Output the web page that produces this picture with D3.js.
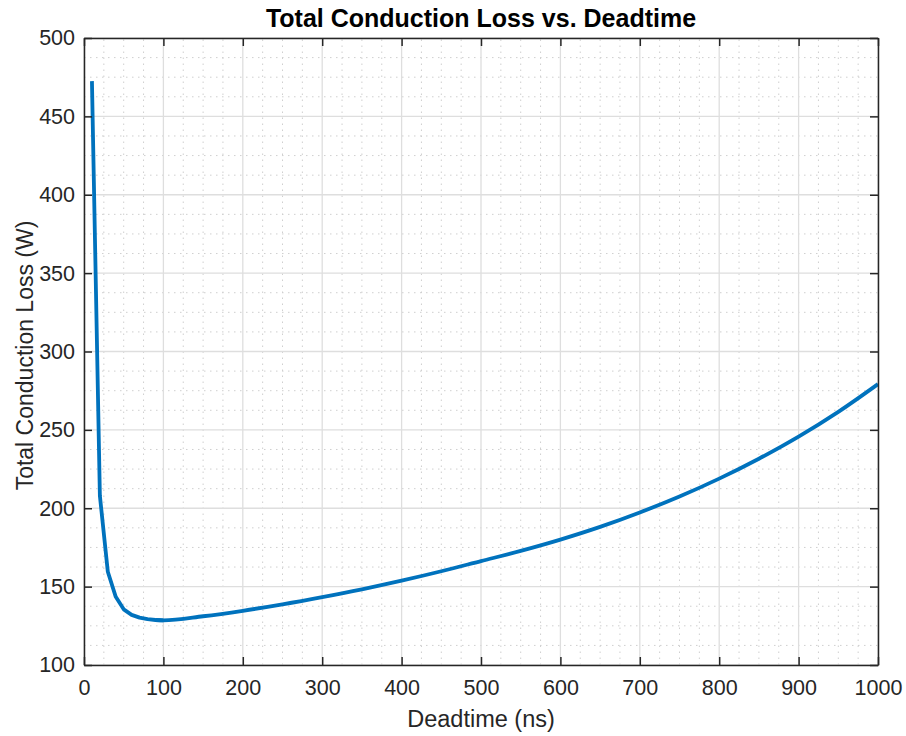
<!DOCTYPE html>
<html>
<head>
<meta charset="utf-8">
<script src="https://cdn.jsdelivr.net/npm/d3@7"></script>
<style>
  body { margin: 0; background: #ffffff; }
  svg { display: block; }
</style>
</head>
<body>
<div id="chart"></div>
<script>

// data
const deadtime = [10, 20, 30, 40, 50, 60, 70, 80, 90, 100,
                  150, 200, 250, 300, 350, 400, 450, 500, 550, 600,
                  650, 700, 750, 800, 850, 900, 950, 1000];
const lossW    = [472.5, 208, 159.5, 143.5, 135.5, 132, 130.2, 129.2, 128.7, 128.5,
                  131.1, 134.6, 138.7, 143.3, 148.3, 153.8, 159.8, 166.3, 172.8, 180.0,
                  188.1, 197.3, 207.5, 218.9, 231.6, 245.7, 261.5, 279.2];
const xTicks = [0, 100, 200, 300, 400, 500, 600, 700, 800, 900, 1000];
const yTicks = [100, 150, 200, 250, 300, 350, 400, 450, 500];

const W = 906, H = 736;
const margin = { left: 84, right: 28, top: 38, bottom: 71 };
const fontFamily = "'Liberation Sans', Arial, Helvetica, sans-serif";
const axisColor = "#262626";

const svg = d3.select("#chart").append("svg")
  .attr("width", W)
  .attr("height", H);

const x = d3.scaleLinear().domain([0, 1000]).range([margin.left, W - margin.right]);
const y = d3.scaleLinear().domain([100, 500]).range([H - margin.bottom, margin.top]);

const x0 = x.range()[0], x1 = x.range()[1];
const y0 = y.range()[0], y1 = y.range()[1];

// minor grid (dotted)
const gMinor = svg.append("g");
gMinor.selectAll("line.mx")
  .data(d3.range(0, 1001, 25).filter(function (v) { return v % 100 !== 0; }))
  .enter().append("line")
  .attr("x1", function (d) { return x(d); })
  .attr("x2", function (d) { return x(d); })
  .attr("y1", y0).attr("y2", y1)
  .attr("stroke", "#cfcfcf")
  .attr("stroke-width", 1)
  .attr("stroke-dasharray", "1.5,4.5");
gMinor.selectAll("line.my")
  .data(d3.range(100, 501, 12.5).filter(function (v) { return v % 50 !== 0; }))
  .enter().append("line")
  .attr("y1", function (d) { return y(d); })
  .attr("y2", function (d) { return y(d); })
  .attr("x1", x0).attr("x2", x1)
  .attr("stroke", "#cfcfcf")
  .attr("stroke-width", 1)
  .attr("stroke-dasharray", "1.5,4.5");

// major grid
const gMajor = svg.append("g");
gMajor.selectAll("line.gx")
  .data(xTicks)
  .enter().append("line")
  .attr("x1", function (d) { return x(d); })
  .attr("x2", function (d) { return x(d); })
  .attr("y1", y0).attr("y2", y1)
  .attr("stroke", "#dedede")
  .attr("stroke-width", 1.3);
gMajor.selectAll("line.gy")
  .data(yTicks)
  .enter().append("line")
  .attr("y1", function (d) { return y(d); })
  .attr("y2", function (d) { return y(d); })
  .attr("x1", x0).attr("x2", x1)
  .attr("stroke", "#dedede")
  .attr("stroke-width", 1.3);

// the curve: straight segments over the steep start (10 ns steps),
// smooth through the sparser points after 100 ns
const pts = deadtime.map(function (t, i) { return [t, lossW[i]]; });
const steep = pts.filter(function (p) { return p[0] <= 100; });
const tail  = pts.filter(function (p) { return p[0] >= 90; });

const lineLin = d3.line()
  .x(function (d) { return x(d[0]); })
  .y(function (d) { return y(d[1]); });
const lineSmooth = d3.line()
  .x(function (d) { return x(d[0]); })
  .y(function (d) { return y(d[1]); })
  .curve(d3.curveMonotoneX);

const gCurve = svg.append("g")
  .attr("fill", "none")
  .attr("stroke", "#0072BD")
  .attr("stroke-width", 3.8)
  .attr("stroke-linejoin", "round");
gCurve.append("path").attr("d", lineLin(steep));
gCurve.append("path").attr("d", lineSmooth(tail));

// axes, ticks pointing inward, mirrored on top / right
const tickLen = 8;

function styleAxis(g) {
  g.selectAll("path.domain").attr("stroke", axisColor).attr("stroke-width", 1.5);
  g.selectAll(".tick line").attr("stroke", axisColor).attr("stroke-width", 1.5);
  g.selectAll(".tick text")
    .attr("fill", axisColor)
    .attr("font-family", fontFamily)
    .attr("font-size", 21.5);
}

const xAxis = svg.append("g")
  .attr("transform", "translate(0," + y0 + ")")
  .call(d3.axisBottom(x).tickValues(xTicks).tickSizeInner(-tickLen).tickSizeOuter(0).tickPadding(15).tickFormat(d3.format("d")));
styleAxis(xAxis);

const xAxisTop = svg.append("g")
  .attr("transform", "translate(0," + y1 + ")")
  .call(d3.axisTop(x).tickValues(xTicks).tickSizeInner(-tickLen).tickSizeOuter(0).tickFormat(""));
styleAxis(xAxisTop);

const yAxis = svg.append("g")
  .attr("transform", "translate(" + x0 + ",0)")
  .call(d3.axisLeft(y).tickValues(yTicks).tickSizeInner(-tickLen).tickSizeOuter(0).tickPadding(9).tickFormat(d3.format("d")));
styleAxis(yAxis);

const yAxisRight = svg.append("g")
  .attr("transform", "translate(" + x1 + ",0)")
  .call(d3.axisRight(y).tickValues(yTicks).tickSizeInner(-tickLen).tickSizeOuter(0).tickFormat(""));
styleAxis(yAxisRight);

// titles
svg.append("text")
  .attr("x", (x0 + x1) / 2)
  .attr("y", 27)
  .attr("text-anchor", "middle")
  .attr("font-family", fontFamily)
  .attr("font-weight", "bold")
  .attr("font-size", 25)
  .attr("fill", "#000000")
  .text("Total Conduction Loss vs. Deadtime");

svg.append("text")
  .attr("x", (x0 + x1) / 2)
  .attr("y", 727)
  .attr("text-anchor", "middle")
  .attr("font-family", fontFamily)
  .attr("font-size", 23.5)
  .attr("fill", axisColor)
  .text("Deadtime (ns)");

svg.append("text")
  .attr("transform", "translate(33," + ((y0 + y1) / 2 + 4) + ") rotate(-90)")
  .attr("text-anchor", "middle")
  .attr("font-family", fontFamily)
  .attr("font-size", 23)
  .attr("fill", axisColor)
  .text("Total Conduction Loss (W)");

</script>
</body>
</html>
